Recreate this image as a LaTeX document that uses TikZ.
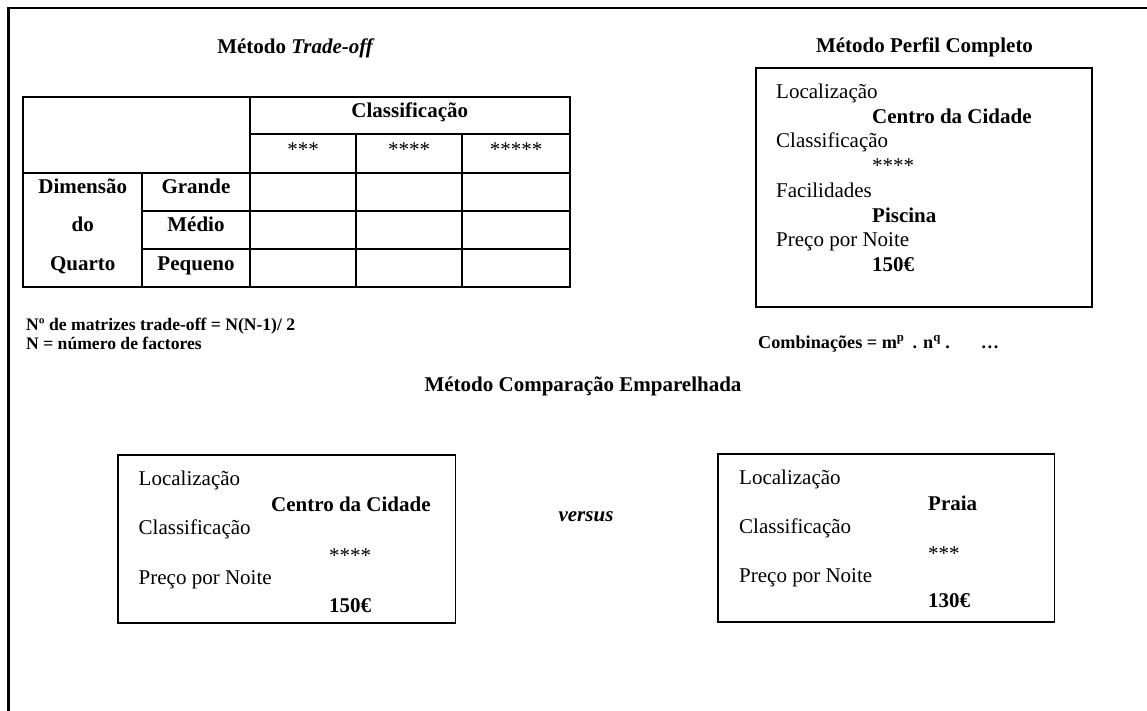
\documentclass[tikz,border=0pt]{standalone}
\usepackage{fontspec}
\setmainfont{Liberation Serif}
\tikzset{
  lbl/.style={inner sep=0pt, anchor=base west, font=\fontsize{21}{25}\selectfont},
  val/.style={inner sep=0pt, anchor=base west, font=\fontsize{21}{25}\selectfont\bfseries},
  ttl/.style={inner sep=0pt, anchor=base, font=\fontsize{21}{25}\selectfont\bfseries},
  cell/.style={inner sep=0pt, anchor=base, font=\fontsize{21}{25}\selectfont\bfseries},
  starcell/.style={inner sep=0pt, anchor=base, font=\fontsize{21}{25}\selectfont},
  note/.style={inner sep=0pt, anchor=base west, font=\fontsize{17.6}{20}\selectfont\bfseries},
  outerrule/.style={line width=2.4pt},
  tablerule/.style={line width=2pt},
  card/.style={line width=1.8pt},
}
\begin{document}
\begin{tikzpicture}[x=1pt,y=-1pt]
\useasboundingbox (0,0) rectangle (1147,711);

% outer frame (left and top edges)
\draw[outerrule] (8.5,711) -- (8.5,8.3) -- (1147,8.3);

% section titles
\node[ttl] (ttrade) at (296,54) {Método \textit{Trade-off}};
\node[ttl] (tperfil) at (924.5,53) {Método Perfil Completo};
\node[ttl] (tcomp) at (583,391) {Método Comparação Emparelhada};

% trade-off matrix
\def\Xa{23}\def\Xb{142.4}\def\Xc{250}\def\Xd{356}\def\Xe{462}\def\Xf{569.5}
\def\Ya{96.7}\def\Yb{134.3}\def\Yc{172.7}\def\Yd{210.7}\def\Ye{248.7}\def\Yf{286.7}
\draw[tablerule] (\Xa,\Ya) rectangle (\Xf,\Yf);
\draw[tablerule] (\Xc,\Ya) -- (\Xc,\Yf);
\draw[tablerule] (\Xb,\Yc) -- (\Xb,\Yf);
\draw[tablerule] (\Xd,\Yb) -- (\Xd,\Yf);
\draw[tablerule] (\Xe,\Yb) -- (\Xe,\Yf);
\draw[tablerule] (\Xc,\Yb) -- (\Xf,\Yb);
\draw[tablerule] (\Xa,\Yc) -- (\Xf,\Yc);
\draw[tablerule] (\Xb,\Yd) -- (\Xf,\Yd);
\draw[tablerule] (\Xb,\Ye) -- (\Xf,\Ye);

\node[cell] (hclass) at (409.75,118) {Classificação};
\node[starcell] (s3) at (303,157) {***};
\node[starcell] (s4) at (409,157) {****};
\node[starcell] (s5) at (516,157) {*****};
\node[cell] (dim1) at (82.7,194) {Dimensão};
\node[cell] (dim2) at (82.7,232) {do};
\node[cell] (dim3) at (82.7,270) {Quarto};
\node[cell] (rg) at (196,194) {Grande};
\node[cell] (rm) at (196,232) {Médio};
\node[cell] (rp) at (196,270) {Pequeno};

% notes under the matrix
\node[note] (n1) at (26,330) {Nº de matrizes trade-off = N(N-1)/ 2};
\node[note] (n2) at (26,349) {N = número de factores};

% full-profile card
\draw[card] (756,68) rectangle (1092,307);
\node[lbl] (p1) at (776,98.5) {Localização};
\node[val] (p2) at (872,123.25) {Centro da Cidade};
\node[lbl] (p3) at (776,148) {Classificação};
\node[lbl] (p4) at (872,173) {****};
\node[lbl] (p5) at (776,197.5) {Facilidades};
\node[val] (p6) at (872,222.25) {Piscina};
\node[lbl] (p7) at (776,247) {Preço por Noite};
\node[val] (p8) at (872,271.75) {150€};

\node[note, font=\fontsize{18.2}{20}\selectfont\bfseries] (comb) at (758,348)
  {Combinações = m\textsuperscript{p}\hspace{8pt}. n\textsuperscript{q} .\hspace{31pt}…};

% paired comparison cards
\draw[card] (118,455) rectangle (455.4,623);
\node[lbl] (a1) at (138.5,485) {Localização};
\node[val] (a2) at (271,511) {Centro da Cidade};
\node[lbl] (a3) at (138.5,534) {Classificação};
\node[lbl] (a4) at (329,562) {****};
\node[lbl] (a5) at (138.5,584) {Preço por Noite};
\node[val] (a6) at (329,612) {150€};

\node[ttl, font=\fontsize{21}{25}\selectfont\bfseries\itshape] (vs) at (586,521) {versus};

\draw[card] (718,454) rectangle (1054.5,622);
\node[lbl] (b1) at (739,484) {Localização};
\node[val] (b2) at (928,510) {Praia};
\node[lbl] (b3) at (739,533) {Classificação};
\node[lbl] (b4) at (928,560) {***};
\node[lbl] (b5) at (739,582) {Preço por Noite};
\node[val] (b6) at (928,607) {130€};
\end{tikzpicture}
\end{document}
